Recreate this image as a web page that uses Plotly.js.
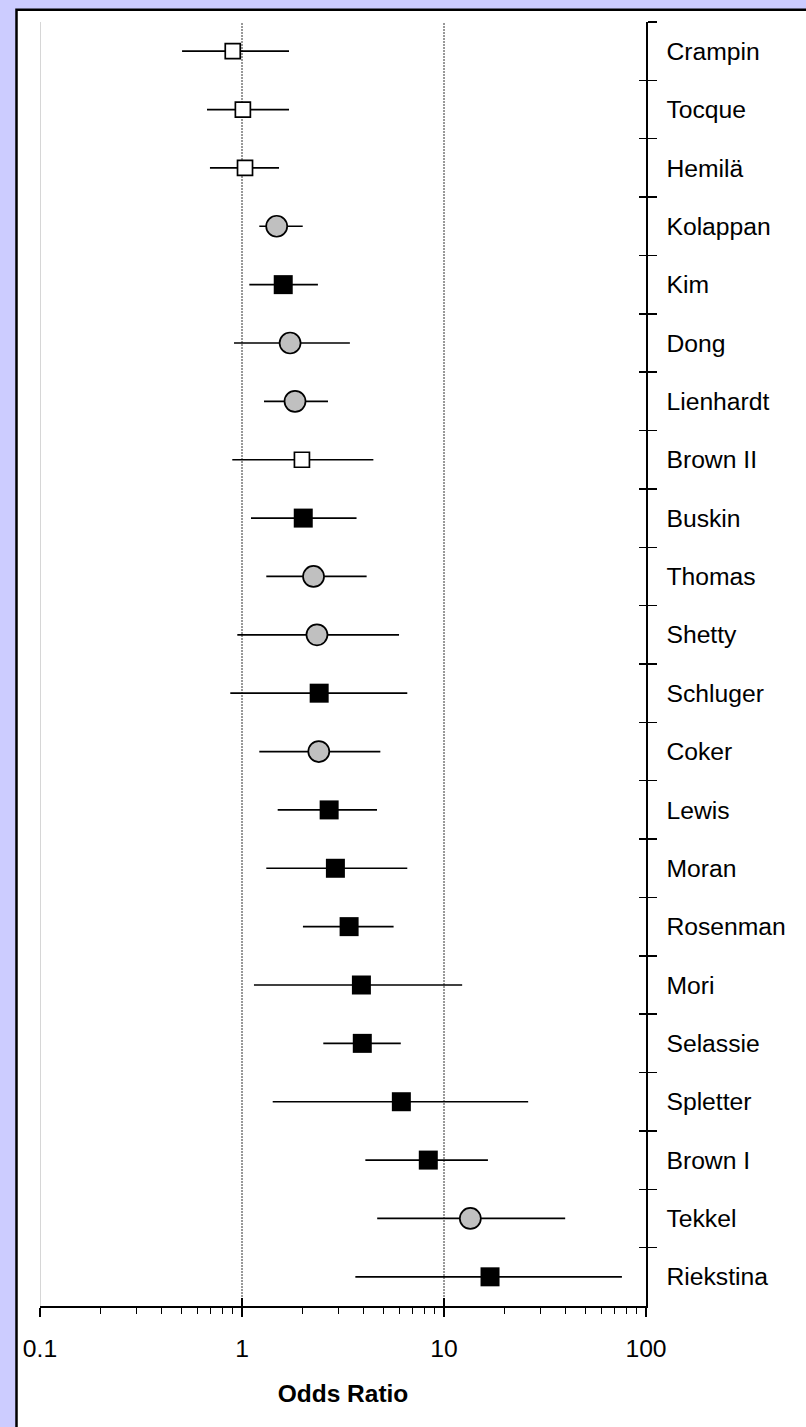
<!DOCTYPE html>
<html>
<head>
<meta charset="utf-8">
<script src="https://cdn.plot.ly/plotly-3.0.1.min.js"></script>
<style>html,body{margin:0;padding:0;background:#ccccff;}#chart{width:806px;height:1427px;}</style>
</head>
<body>
<div id="chart"></div>
<script>
// Data (odds ratios with 95% CI)
const studies = ["Crampin","Tocque","Hemilä","Kolappan","Kim","Dong","Lienhardt","Brown II","Buskin","Thomas","Shetty","Schluger","Coker","Lewis","Moran","Rosenman","Mori","Selassie","Spletter","Brown I","Tekkel","Riekstina"];
const oddsRatio = [0.90,1.01,1.035,1.485,1.60,1.73,1.83,1.98,2.01,2.26,2.35,2.41,2.40,2.70,2.90,3.39,3.90,3.94,6.15,8.36,13.5,16.9];
const ciLow =     [0.505,0.671,0.694,1.218,1.087,0.913,1.285,0.895,1.108,1.319,0.948,0.875,1.218,1.502,1.319,2.003,1.146,2.526,1.419,4.08,4.67,3.64];
const ciHigh =    [1.709,1.709,1.525,1.998,2.376,3.42,2.665,4.47,3.69,4.14,5.99,6.58,4.84,4.66,6.58,5.63,12.3,6.11,26.1,16.5,39.8,76.0];
// study group: "open" = open square, "circle" = grey circle, "solid" = black square
const group = ["open","open","open","circle","solid","circle","circle","open","solid","circle","circle","solid","circle","solid","solid","solid","solid","solid","solid","solid","circle","solid"];
const xTickVals = [0.1,1,10,100];
const xTickText = ["0.1","1","10","100"];
const minorVals = [0.2,0.3,0.4,0.5,0.6,0.7,0.8,0.9,2,3,4,5,6,7,8,9,20,30,40,50,60,70,80,90];

const styles = {
  open:   {symbol:"square", size:15, color:"#ffffff", line:{color:"#000", width:1.7}},
  circle: {symbol:"circle", size:21, color:"#c0c0c0", line:{color:"#000", width:1.7}},
  solid:  {symbol:"square", size:19, color:"#000000", line:{color:"#000", width:0}}
};

const traces = [];
["open","circle","solid"].forEach(g => {
  const idx = studies.map((s,i)=>i).filter(i=>group[i]===g);
  traces.push({
    type:"scatter", mode:"markers", name:g,
    x: idx.map(i=>oddsRatio[i]),
    y: idx.map(i=>studies[i]),
    marker: styles[g],
    error_x: {type:"data", symmetric:false,
      array: idx.map(i=>ciHigh[i]-oddsRatio[i]),
      arrayminus: idx.map(i=>oddsRatio[i]-ciLow[i]),
      color:"#000", thickness:1.7, width:0},
    hoverinfo:"skip", showlegend:false, cliponaxis:false
  });
});
// invisible helper trace for the overlay axes (crossing ticks)
traces.push({type:"scatter", mode:"markers", x:studies.map(()=>1), y:studies,
  xaxis:"x2", yaxis:"y2", marker:{opacity:0}, hoverinfo:"skip", showlegend:false});

const font = {family:"Liberation Sans, Arial, sans-serif", size:24.7, color:"#000"};
const yRange = [studies.length-0.5, -0.5];

const layout = {
  width:806, height:1427,
  margin:{l:40, r:160, t:22, b:121},
  paper_bgcolor:"#ccccff",
  plot_bgcolor:"rgba(0,0,0,0)",
  font: font,
  showlegend:false,
  xaxis:{type:"log", range:[-1,2], tickmode:"array", tickvals:xTickVals, ticktext:xTickText,
    showline:true, linecolor:"#000", linewidth:1.5, ticks:"outside", ticklen:9, tickwidth:1.5, tickcolor:"#000",
    showgrid:false, zeroline:false, ticklabelstandoff:11,
    minor:{tickmode:"array", tickvals:minorVals, ticks:"outside", ticklen:6, tickwidth:1.3, tickcolor:"#000", showgrid:false},
    title:{text:"<b>Odds Ratio</b>", font:{family:font.family, size:24.5, color:"#000"}, standoff:23},
    tickfont:font, fixedrange:true},
  xaxis2:{type:"log", range:[-1,2], overlaying:"x", side:"bottom", anchor:"y2", tickmode:"array", tickvals:xTickVals,
    showticklabels:false, ticks:"inside", ticklen:8, tickwidth:1.5, tickcolor:"#000", showline:false, showgrid:false, zeroline:false},
  yaxis:{type:"category", categoryorder:"array", categoryarray:studies, range:yRange, side:"right",
    tickson:"boundaries", showline:true, linecolor:"#000", linewidth:1.5, ticks:"outside", ticklen:9, tickwidth:1.5, tickcolor:"#000",
    showgrid:false, zeroline:false, tickfont:font, ticklabelstandoff:14, fixedrange:true},
  yaxis2:{type:"category", categoryorder:"array", categoryarray:studies, range:yRange, overlaying:"y", side:"right", anchor:"x2",
    tickson:"boundaries", showticklabels:false, ticks:"inside", ticklen:7, tickwidth:1.5, tickcolor:"#000",
    showline:false, showgrid:false, zeroline:false},
  shapes:[
    {type:"rect", xref:"paper", yref:"paper", x0:(16.5-40)/606, x1:(830-40)/606, y0:(1306-1450)/1284, y1:(1306-9.7)/1284,
      fillcolor:"#ffffff", line:{color:"#000", width:2.5}, layer:"below"},
    {type:"line", xref:"x", yref:"paper", x0:0.1, x1:0.1, y0:0, y1:1, line:{color:"#c8c8c8", width:1.5}, layer:"below"},
    {type:"line", xref:"x", yref:"paper", x0:1, x1:1, y0:0, y1:1, line:{color:"#333", width:1, dash:"2px,1px"}, layer:"below"},
    {type:"line", xref:"x", yref:"paper", x0:10, x1:10, y0:0, y1:1, line:{color:"#333", width:1, dash:"2px,1px"}, layer:"below"}
  ]
};

Plotly.newPlot("chart", traces, layout, {staticPlot:true, displayModeBar:false});
</script>
</body>
</html>
